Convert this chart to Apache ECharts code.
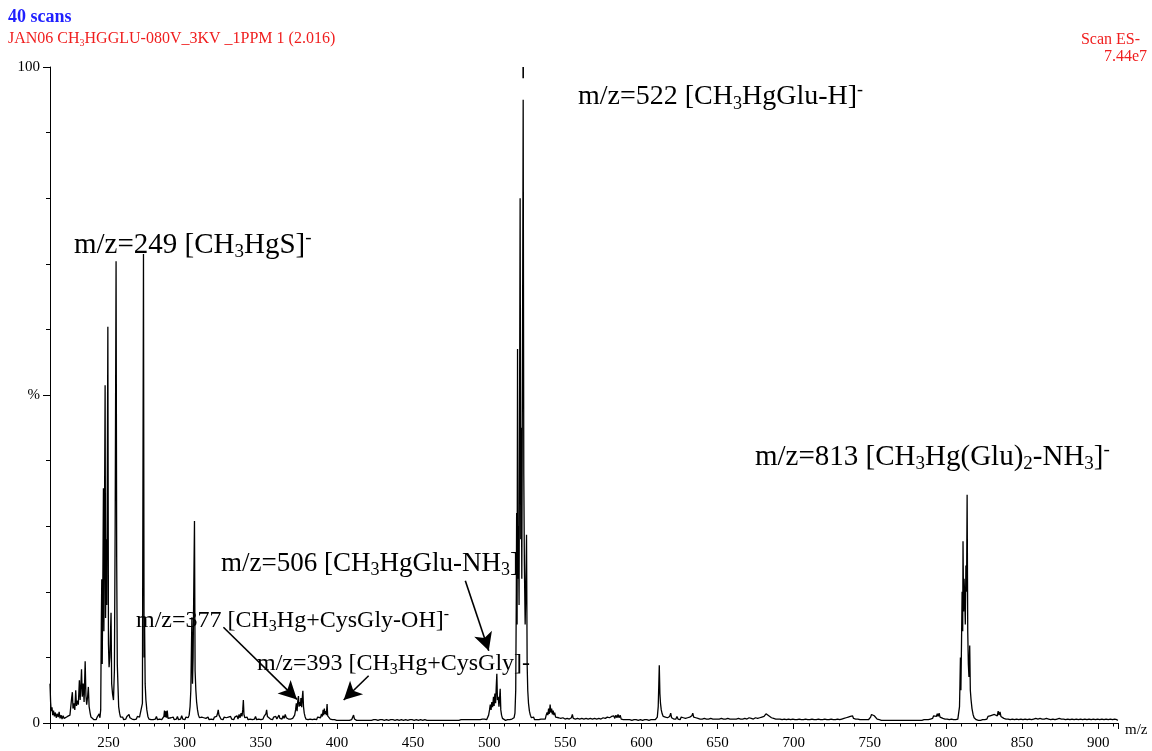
<!DOCTYPE html>
<html>
<head>
<meta charset="utf-8">
<script src="https://cdn.jsdelivr.net/npm/echarts@6/dist/echarts.min.js"></script>
<style>
html,body{margin:0;padding:0;background:#fff;}
#chart{width:1152px;height:751px;}
</style>
</head>
<body>
<div id="chart"></div>
<script>
// ---- Data: [m/z, relative intensity %] ----
const spectrumA = [[211.5,6.0],[211.9,3.2],[212.3,1.8],[212.8,2.4],[213.3,1.2],[213.8,1.9],[214.4,1.0],[215.0,1.6],[215.6,0.8],[216.2,1.4],[216.9,0.9],[217.5,1.7],[218.1,0.7],[218.8,1.2],[219.4,0.6],[220.1,1.1],[220.8,0.7],[221.4,0.9],[222.0,0.6],[223,1.0],[223.8,0.7],[224.6,1.2],[225.3,0.9],[225.8,4.0],[226.2,4.7],[226.6,2.2],[227.2,3.0],[227.8,2.0],[228.4,5.0],[228.9,2.6],[229.5,3.4],[230.1,2.8],[230.8,6.5],[231.3,3.5],[231.8,5.8],[232.2,8.2],[232.7,4.0],[233.3,6.0],[233.9,3.2],[234.6,9.4],[235.1,4.2],[235.6,2.8],[236.2,4.0],[236.7,5.5],[237.2,2.5],[237.8,1.6],[238.4,0.9],[239.0,0.6],[239.7,0.8],[240.4,0.5],[241.1,0.7],[241.8,0.5],[242.5,0.9],[243.2,0.6],[243.8,1.4],[244.3,0.8],[244.8,2.0],[245.2,15],[245.5,21.9],[245.8,9],[246.1,18],[246.6,35.8],[246.9,14],[247.2,27],[247.7,51.5],[248.0,16],[248.4,28],[248.8,18],[249.1,35],[249.5,60.4],[249.9,12],[250.3,8.5],[250.8,10],[251.6,16.8],[252.0,6],[252.6,4.4],[253.2,3.5],[253.8,8],[254.3,30],[254.9,70.4],[255.3,25],[255.7,9],[256.1,6],[256.6,2.5],[257.2,1.5],[257.8,0.9],[258.5,0.6],[259.2,0.9],[259.9,0.5],[260.6,0.8],[261.3,0.6],[262.0,1.0],[262.7,0.7],[263.4,1.3],[264.0,0.8],[264.7,1.1],[265.4,0.6],[266.1,0.9],[266.8,0.5],[267.5,0.8],[268.2,0.6],[268.9,1.0],[269.6,0.7],[270.3,0.9],[271.0,0.6],[271.6,1.2],[272.2,3],[272.9,71.5],[273.3,10],[273.6,16],[274.0,6],[274.5,3.5],[275.1,2.0],[275.8,1.0],[276.5,0.6],[277.2,0.9],[277.9,0.5],[278.6,0.8],[279.3,0.5],[280.0,0.7],[280.7,0.6],[281.4,1.0],[282.1,0.5],[282.8,0.8],[283.5,0.6],[284.2,0.9],[284.9,0.5],[285.6,0.7],[286.3,1.0],[286.7,1.9],[287.1,0.9],[287.5,1.8],[288.0,0.8],[288.5,1.9],[289.0,0.7],[289.6,0.9],[290.3,0.5],[291.0,0.8],[291.7,0.6],[292.4,0.9],[293.1,0.5],[293.8,0.7],[294.5,0.6],[295.2,1.0],[295.9,0.5],[296.6,0.8],[297.3,0.6],[298.0,1.1],[298.7,0.6],[299.4,0.8]];
const spectrumB = [[300.1,0.5],[300.8,0.9],[301.5,0.6],[302.2,0.8],[302.9,1.2],[303.5,2.5],[304.0,5],[304.7,16.1],[305.1,6],[305.5,10],[306.0,22],[306.4,30.8],[306.8,8],[307.3,5],[307.8,3.2],[308.4,2.0],[309.0,1.2],[309.7,0.8],[310.4,0.5],[311.1,0.9],[311.8,0.6],[312.5,0.8],[313.2,0.5],[313.9,0.7],[314.6,0.6],[315.3,0.9],[316.0,0.5],[316.7,0.8],[317.4,0.6],[318.1,0.7],[318.8,0.5],[319.5,0.9],[320.2,0.6],[320.9,1.0],[321.5,1.4],[322.0,2.0],[322.5,1.2],[323.1,1.0],[323.8,0.6],[324.5,0.8],[325.2,0.5],[325.9,0.9],[326.6,0.6],[327.3,0.8],[328.0,0.5],[328.7,0.9],[329.4,0.6],[330.1,1.0],[330.8,0.6],[331.5,0.8],[332.2,0.5],[332.9,0.9],[333.6,0.7],[334.3,1.1],[335.0,0.6],[335.7,1.3],[336.3,0.8],[337.0,1.5],[337.6,1.0],[338.1,2.0],[338.5,3.5],[338.9,1.3],[339.5,0.8],[340.2,0.6],[340.9,0.9],[341.6,0.5],[342.3,0.8],[343.0,0.6],[343.7,0.9],[344.4,0.5],[345.1,0.8],[345.8,0.6],[346.5,1.0],[347.2,0.5],[347.9,0.7],[348.6,0.6],[349.3,0.9],[350.0,0.5],[350.7,0.8],[351.4,0.6],[352.1,1.0],[352.7,0.8],[353.3,1.4],[353.8,2.0],[354.3,1.0],[354.9,0.7],[355.6,0.9],[356.3,0.6],[357.0,0.8],[357.7,0.5],[358.4,0.9],[359.1,0.6],[359.8,1.0],[360.5,0.6],[361.2,0.8],[361.9,1.2],[362.5,0.7],[363.2,0.9],[363.9,0.6],[364.6,1.1],[365.3,0.7],[366.0,1.3],[366.7,0.8],[367.4,1.0],[368.1,0.6],[368.8,0.9],[369.5,0.6],[370.2,0.8],[370.9,0.7],[371.6,1.0],[372.2,1.2],[372.8,2.0],[373.3,3.0],[373.8,1.8],[374.3,3.5],[374.7,4.1],[375.1,2.5],[375.6,3.2],[376.0,2.6],[376.3,3.8],[376.8,2.4],[377.2,3.8],[377.6,4.9],[378.0,2.5],[378.5,1.5],[379.0,1.0],[379.6,0.6],[380.3,0.8],[381.0,0.5],[381.7,0.7],[382.4,0.6],[383.1,0.9],[383.8,0.5],[384.5,0.7],[385.2,0.6],[385.9,0.8],[386.6,0.5],[387.3,0.9],[388.0,0.7],[388.6,1.1],[389.2,0.8],[389.8,1.4],[390.4,1.0],[390.9,2.0],[391.3,1.2],[391.7,2.2],[392.1,1.4],[392.6,1.8],[393.0,1.2],[393.5,2.9],[393.9,1.1],[394.4,0.8],[395.0,1.0],[395.6,0.6],[396.3,0.8],[397.0,0.5],[397.7,0.7],[398.4,0.5],[399.1,0.6]];
const spectrumC = [[399.8,0.4],[400.5,0.6],[401.2,0.4],[401.9,0.6],[402.6,0.4],[403.3,0.7],[404.0,0.4],[404.7,0.6],[405.4,0.4],[406.1,0.5],[406.8,0.4],[407.5,0.6],[408.2,0.4],[408.9,0.6],[409.6,0.5],[410.3,0.8],[410.9,1.2],[411.5,0.6],[412.2,0.5],[412.9,0.4],[413.6,0.6],[414.3,0.4],[415.0,0.5],[415.7,0.4],[416.4,0.7],[417.1,0.4],[417.8,0.5],[418.5,0.4],[419.2,0.6],[419.9,0.4],[420.6,0.5],[421.3,0.4],[422.0,0.7],[422.7,0.4],[423.4,0.6],[424.1,0.5],[424.8,0.8],[425.5,0.5],[426.2,0.7],[426.9,0.4],[427.6,0.6],[428.3,0.5],[429.0,0.8],[429.7,0.5],[430.4,0.7],[431.1,0.4],[431.8,0.6],[432.5,0.5],[433.2,0.7],[433.9,0.4],[434.6,0.6],[435.3,0.5],[436.0,0.8],[436.7,0.5],[437.4,0.6],[438.1,0.4],[438.8,0.7],[439.5,0.5],[440.2,0.6],[440.9,0.4],[441.6,0.6],[442.3,0.5],[443.0,0.7],[443.7,0.4],[444.4,0.6],[445.1,0.5],[445.8,0.7],[446.5,0.4],[447.2,0.6],[447.9,0.5],[448.6,0.8],[449.3,0.5],[450.0,0.6],[450.7,0.4],[451.4,0.7],[452.1,0.5],[452.8,0.6],[453.5,0.4],[454.2,0.6],[454.9,0.5],[455.6,0.7],[456.3,0.4],[457.0,0.6],[457.7,0.5],[458.4,0.6],[459.1,0.4],[459.8,0.5],[460.5,0.4],[461.2,0.6],[461.9,0.4],[462.6,0.5],[463.3,0.4],[464.0,0.6],[464.7,0.4],[465.4,0.5],[466.1,0.4],[466.8,0.6],[467.5,0.4],[468.2,0.5],[468.9,0.4],[469.6,0.6],[470.3,0.4],[471.0,0.5],[471.7,0.4],[472.4,0.6],[473.1,0.4],[473.8,0.5],[474.5,0.4],[475.2,0.6],[475.9,0.4],[476.6,0.5],[477.3,0.4],[478.0,0.6],[478.7,0.4],[479.4,0.5],[480.1,0.4],[480.8,0.6],[481.5,0.5],[482.2,0.7],[482.9,0.5],[483.6,0.6],[484.3,0.5],[485.0,0.7],[485.7,0.5],[486.4,0.8],[487.1,0.5],[487.8,0.6],[488.5,0.5],[489.2,0.7],[489.9,0.5],[490.6,0.6],[491.3,0.5],[492.0,0.7],[492.7,0.5],[493.4,0.6],[494.1,0.5],[494.8,0.7],[495.5,0.6],[496.2,0.8],[496.9,0.6],[497.6,0.7],[498.3,0.5],[499.0,0.8]];
const spectrumD = [[499.6,1.2],[500.2,2.0],[500.7,2.8],[501.2,2.0],[501.7,3.2],[502.2,2.4],[502.8,4.0],[503.2,2.6],[503.7,4.5],[504.2,3.0],[504.6,5.5],[505.0,7.5],[505.4,3.5],[505.9,4.0],[506.4,2.5],[506.8,3.8],[507.2,5.2],[507.6,2.0],[508.1,1.2],[508.7,0.7],[509.3,0.5],[510.0,0.6],[510.7,0.4],[511.4,0.6],[512.1,0.5],[512.8,0.7],[513.5,0.5],[514.2,0.8],[514.9,0.6],[515.6,0.9],[516.3,0.8],[516.9,1.5],[517.4,5],[517.8,20],[518.0,32],[518.3,15],[518.6,57],[518.9,22],[519.2,30],[519.6,18],[520.3,80],[520.7,28],[521.0,45],[521.4,22],[521.8,52],[522.3,95],[522.7,38],[523.1,24],[523.6,15],[524.0,20],[524.5,28.7],[524.9,9],[525.3,5],[525.8,3],[526.4,1.8],[527.0,1.2],[527.7,0.8],[528.4,0.6],[529.1,0.9],[529.8,0.5],[530.5,0.7],[531.2,0.5],[531.9,0.8],[532.6,0.5],[533.3,0.7],[534.0,0.6],[534.7,0.9],[535.4,0.6],[536.1,0.8],[536.8,0.6],[537.4,1.2],[538.0,1.6],[538.5,1.2],[539.0,2.2],[539.5,1.4],[540.0,2.8],[540.5,1.6],[541.0,2.2],[541.5,1.3],[542.0,1.9],[542.5,1.2],[543.0,1.6],[543.6,0.9],[544.2,1.1],[544.9,0.6],[545.6,0.8],[546.3,0.5],[547.0,0.7],[547.7,0.5],[548.4,0.8],[549.1,0.5],[549.8,0.6],[550.5,0.5],[551.2,0.7],[551.9,0.5],[552.6,0.6],[553.3,0.5],[554.0,0.8],[554.6,1.3],[555.2,0.7],[555.9,0.5],[556.6,0.6],[557.3,0.5],[558.0,0.7],[558.7,0.4],[559.4,0.6],[560.1,0.5],[560.8,0.7],[561.5,0.5],[562.2,0.6],[562.9,0.5],[563.6,0.7],[564.3,0.5],[565.0,0.6],[565.7,0.5],[566.4,0.7],[567.1,0.5],[567.8,0.6],[568.5,0.4],[569.2,0.7],[569.9,0.5],[570.6,0.6],[571.3,0.5],[572.0,0.7],[572.7,0.5],[573.4,0.6],[574.1,0.5],[574.8,0.8],[575.5,0.5],[576.2,0.7],[576.9,0.6],[577.6,0.9],[578.3,0.6],[579.0,0.8],[579.7,0.6],[580.4,1.0],[581.1,0.7],[581.8,1.1],[582.5,0.7],[583.2,1.2],[583.9,0.8],[584.6,1.3],[585.3,0.8],[586.0,1.2],[586.7,0.6],[587.4,0.9],[588.1,0.5],[588.8,0.7],[589.5,0.5],[590.2,0.6],[590.9,0.5],[591.6,0.7],[592.3,0.5],[593.0,0.6],[593.7,0.4],[594.4,0.6],[595.1,0.5],[595.8,0.7],[596.5,0.5],[597.2,0.6],[597.9,0.4],[598.6,0.6],[599.3,0.5]];
const spectrumE = [[600.0,0.6],[600.7,0.4],[601.4,0.6],[602.1,0.5],[602.8,0.7],[603.5,0.5],[604.2,0.6],[604.9,0.4],[605.6,0.6],[606.3,0.5],[607.0,0.7],[607.7,0.5],[608.4,0.6],[609.1,0.5],[609.8,0.7],[610.4,0.9],[611.0,2.5],[611.4,6],[611.7,8.8],[612.1,4.5],[612.5,3.0],[613.0,2.0],[613.6,1.4],[614.3,1.0],[615.0,0.7],[615.7,0.9],[616.4,0.6],[617.1,0.8],[617.8,0.6],[618.5,1.0],[619.2,1.5],[619.8,0.8],[620.5,1.1],[621.2,0.6],[621.9,0.9],[622.6,0.6],[623.3,1.0],[624.0,0.6],[624.7,0.8],[625.4,0.5],[626.1,0.9],[626.8,0.6],[627.5,0.8],[628.2,0.5],[628.9,0.7],[629.6,0.5],[630.3,0.8],[631.0,0.6],[631.7,0.9],[632.4,0.7],[633.1,1.1],[633.7,1.5],[634.3,0.9],[635.0,0.6],[635.7,0.8],[636.4,0.5],[637.1,0.7],[637.8,0.5],[638.5,0.6],[639.2,0.4],[639.9,0.6],[640.6,0.5],[641.3,0.7],[642.0,0.5],[642.7,0.6],[643.4,0.4],[644.1,0.6],[644.8,0.5],[645.5,0.7],[646.2,0.5],[646.9,0.6],[647.6,0.4],[648.3,0.6],[649.0,0.5],[649.7,0.6],[650.4,0.4],[651.1,0.6],[651.8,0.5],[652.5,0.7],[653.2,0.5],[653.9,0.6],[654.6,0.4],[655.3,0.6],[656.0,0.5],[656.7,0.7],[657.4,0.5],[658.1,0.6],[658.8,0.4],[659.5,0.6],[660.2,0.5],[660.9,0.6],[661.6,0.4],[662.3,0.6],[663.0,0.5],[663.7,0.7],[664.4,0.5],[665.1,0.6],[665.8,0.4],[666.5,0.6],[667.2,0.5],[667.9,0.7],[668.6,0.5],[669.3,0.6],[670.0,0.5],[670.7,0.8],[671.4,0.5],[672.1,0.7],[672.8,0.5],[673.5,0.6],[674.2,0.5],[674.9,0.8],[675.6,0.5],[676.3,0.7],[677.0,0.6],[677.7,0.8],[678.4,0.6],[679.1,0.9],[679.8,0.7],[680.5,1.0],[681.2,1.1],[681.8,1.4],[682.4,1.2],[683.0,1.6],[683.6,1.1],[684.2,1.3],[684.8,0.9],[685.4,0.8],[686.1,0.6],[686.8,0.7],[687.5,0.5],[688.2,0.6],[688.9,0.4],[689.6,0.6],[690.3,0.5],[691.0,0.6],[691.7,0.4],[692.4,0.5],[693.1,0.4],[693.8,0.6],[694.5,0.4],[695.2,0.5],[695.9,0.4],[696.6,0.6],[697.3,0.4],[698.0,0.5],[698.7,0.4],[699.4,0.6]];
const spectrumF = [[700.1,0.4],[700.8,0.5],[701.5,0.4],[702.2,0.5],[702.9,0.4],[703.6,0.6],[704.3,0.4],[705.0,0.5],[705.7,0.4],[706.4,0.5],[707.1,0.4],[707.8,0.6],[708.5,0.4],[709.2,0.5],[709.9,0.4],[710.6,0.5],[711.3,0.4],[712.0,0.6],[712.7,0.4],[713.4,0.5],[714.1,0.4],[714.8,0.5],[715.5,0.4],[716.2,0.6],[716.9,0.4],[717.6,0.5],[718.3,0.4],[719.0,0.5],[719.7,0.4],[720.4,0.6],[721.1,0.4],[721.8,0.5],[722.5,0.4],[723.2,0.5],[723.9,0.4],[724.6,0.6],[725.3,0.4],[726.0,0.5],[726.7,0.4],[727.4,0.5],[728.1,0.4],[728.8,0.6],[729.5,0.4],[730.2,0.5],[730.9,0.4],[731.6,0.6],[732.3,0.5],[733.0,0.7],[733.7,0.5],[734.4,0.8],[735.1,0.6],[735.8,0.9],[736.5,0.6],[737.2,1.0],[737.9,0.7],[738.6,1.1],[739.3,0.7],[740.0,1.0],[740.7,0.6],[741.4,0.9],[742.1,0.6],[742.8,0.8],[743.5,0.5],[744.2,0.7],[744.9,0.5],[745.6,0.6],[746.3,0.5],[747.0,0.6],[747.7,0.5],[748.4,0.7],[749.1,0.5],[749.8,0.8],[750.5,0.9],[751.1,1.3],[751.7,1.0],[752.3,1.6],[752.9,1.1],[753.5,1.2],[754.1,0.8],[754.8,0.6],[755.5,0.7],[756.2,0.5],[756.9,0.6],[757.6,0.4],[758.3,0.5],[759.0,0.4],[759.7,0.6],[760.4,0.4],[761.1,0.5],[761.8,0.4],[762.5,0.5],[763.2,0.4],[763.9,0.6],[764.6,0.4],[765.3,0.5],[766.0,0.4],[766.7,0.5],[767.4,0.4],[768.1,0.6],[768.8,0.4],[769.5,0.5],[770.2,0.4],[770.9,0.5],[771.6,0.4],[772.3,0.6],[773.0,0.4],[773.7,0.5],[774.4,0.4],[775.1,0.5],[775.8,0.4],[776.5,0.6],[777.2,0.4],[777.9,0.5],[778.6,0.4],[779.3,0.5],[780.0,0.4],[780.7,0.6],[781.4,0.4],[782.1,0.5],[782.8,0.4],[783.5,0.6],[784.2,0.4],[784.9,0.5],[785.6,0.5],[786.3,0.7],[787.0,0.5],[787.7,0.6],[788.4,0.5],[789.1,0.7],[789.8,0.6],[790.5,0.9],[791.2,0.7],[791.9,1.1],[792.5,0.9],[793.1,1.3],[793.7,1.0],[794.3,1.4],[794.9,1.0],[795.5,1.5],[796.1,0.9],[796.7,1.0],[797.3,0.6],[798.0,0.7],[798.7,0.5],[799.4,0.6]];
const spectrumG = [[800.1,0.4],[800.8,0.6],[801.5,0.4],[802.2,0.5],[802.9,0.4],[803.6,0.6],[804.3,0.4],[805.0,0.5],[805.7,0.4],[806.4,0.5],[807.1,0.4],[807.8,0.6],[808.4,0.8],[808.9,2.5],[809.2,6],[809.5,10],[809.8,5],[810.2,12],[810.6,20],[811.0,14],[811.2,27.7],[811.6,17],[811.9,22],[812.3,19.4],[812.7,15],[813.1,24],[813.5,20],[813.9,34.8],[814.3,14],[814.7,9],[815.1,7],[815.6,11.8],[816.0,5],[816.5,3.5],[817.1,2.2],[817.8,1.3],[818.5,0.8],[819.2,0.6],[819.9,0.5],[820.6,0.6],[821.3,0.4],[822.0,0.5],[822.7,0.4],[823.4,0.6],[824.1,0.5],[824.8,0.7],[825.5,0.5],[826.2,0.8],[826.9,0.6],[827.6,1.0],[828.3,0.7],[829.0,1.1],[829.7,0.8],[830.4,1.2],[831.1,0.9],[831.8,1.3],[832.5,1.0],[833.1,1.6],[833.7,1.1],[834.3,1.8],[834.9,1.2],[835.5,1.7],[836.1,1.0],[836.7,1.3],[837.3,0.8],[838.0,0.7],[838.7,0.5],[839.4,0.6],[840.1,0.4],[840.8,0.6],[841.5,0.4],[842.2,0.5],[842.9,0.4],[843.6,0.6],[844.3,0.4],[845.0,0.5],[845.7,0.4],[846.4,0.6],[847.1,0.4],[847.8,0.5],[848.5,0.4],[849.2,0.6],[849.9,0.4],[850.6,0.5],[851.3,0.4],[852.0,0.6],[852.7,0.4],[853.4,0.5],[854.1,0.4],[854.8,0.6],[855.5,0.4],[856.2,0.5],[856.9,0.4],[857.6,0.6],[858.3,0.5],[859.0,0.7],[859.7,0.5],[860.4,0.6],[861.1,0.5],[861.8,0.7],[862.5,0.5],[863.2,0.6],[863.9,0.4],[864.6,0.6],[865.3,0.5],[866.0,0.7],[866.7,0.5],[867.4,0.6],[868.1,0.4],[868.8,0.5],[869.5,0.4],[870.2,0.6],[870.9,0.4],[871.6,0.5],[872.3,0.4],[873.0,0.6],[873.7,0.5],[874.4,0.7],[875.1,0.5],[875.8,0.6],[876.5,0.4],[877.2,0.6],[877.9,0.4],[878.6,0.5],[879.3,0.4],[880.0,0.6],[880.7,0.4],[881.4,0.5],[882.1,0.4],[882.8,0.6],[883.5,0.4],[884.2,0.5],[884.9,0.4],[885.6,0.6],[886.3,0.4],[887.0,0.5],[887.7,0.4],[888.4,0.6],[889.1,0.4],[889.8,0.5],[890.5,0.4],[891.2,0.6],[891.9,0.4],[892.6,0.5],[893.3,0.4],[894.0,0.6],[894.7,0.4],[895.4,0.5],[896.1,0.4],[896.8,0.6],[897.5,0.4],[898.2,0.5],[898.9,0.4],[899.6,0.6],[900.3,0.4],[901.0,0.5],[901.7,0.4],[902.4,0.6],[903.1,0.4],[903.8,0.5],[904.5,0.4],[905.2,0.6],[905.9,0.4],[906.6,0.5],[907.3,0.4],[908.0,0.6],[908.7,0.4],[909.4,0.5],[910.1,0.4],[910.8,0.6],[911.5,0.4],[912.2,0.5],[912.9,0.4]];
// base-peak marker at top of the scale
const basePeakMarker = [[522.3,98.3],[522.3,100]];
// annotation arrows: [from, to] in [m/z, %]
const arrows = [
  [[325.4,14.6],[373.7,3.6]],
  [[420.8,7.2],[404.4,3.5]],
  [[484.3,21.7],[499.7,11.0]]
];
const yTickLabels = {0:'0', 50:'%', 100:'100'};

const spectrum = [].concat(spectrumA, spectrumB, spectrumC, spectrumD, spectrumE, spectrumF, spectrumG);

const SERIF = 'Liberation Serif, Times New Roman, serif';
const chart = echarts.init(document.getElementById('chart'), null, {renderer:'canvas'});

function chem(parts, size, color) {
  const text = parts.map(p => '{' + p[0] + '|' + p[1] + '}').join('');
  const sub = Math.round(size * 0.65);
  return {
    text: text,
    rich: {
      n: {fontSize: size, fontFamily: SERIF, fill: color, lineHeight: Math.round(size*1.15)},
      s: {fontSize: sub, fontFamily: SERIF, fill: color, verticalAlign: 'bottom'},
      p: {fontSize: sub, fontFamily: SERIF, fill: color, verticalAlign: 'top'}
    }
  };
}

const option = {
  animation: false,
  backgroundColor: '#fff',
  grid: {left: 50, right: 34, top: 67, bottom: 25, containLabel: false},
  xAxis: {
    type: 'value', min: 211.5, max: 913, splitNumber: 14,
    name: 'm/z', nameLocation: 'end', nameGap: 7,
    nameTextStyle: {fontFamily: SERIF, fontSize: 15, color: '#000', verticalAlign: 'top', padding: [0,0,0,0]},
    axisLine: {show: true, lineStyle: {color: '#000', width: 1}},
    axisTick: {show: true, length: 6, inside: false, lineStyle: {color: '#000'}},
    minorTick: {show: true, splitNumber: 5, length: 3.5, lineStyle: {color: '#000'}},
    axisLabel: {
      showMinLabel: false, showMaxLabel: false, margin: 13,
      fontFamily: SERIF, fontSize: 15, color: '#000',
      formatter: v => (v % 50 === 0 ? String(v) : '')
    },
    splitLine: {show: false}
  },
  yAxis: {
    type: 'value', min: 0, max: 100, interval: 50,
    axisLine: {show: true, lineStyle: {color: '#000', width: 1}},
    axisTick: {show: true, length: 7, lineStyle: {color: '#000'}},
    minorTick: {show: true, splitNumber: 5, length: 4, lineStyle: {color: '#000'}},
    axisLabel: {margin: 10, fontFamily: SERIF, fontSize: 15, color: '#000',
      formatter: v => (yTickLabels[v] !== undefined ? yTickLabels[v] : '')},
    splitLine: {show: false}
  },
  series: [
    {
      type: 'line', data: spectrum, showSymbol: false, symbol: 'none',
      sampling: null, smooth: false, silent: true,
      lineStyle: {color: '#000', width: 1.3},
      markLine: {
        silent: true, symbol: ['none', 'arrow'], symbolSize: [14, 18],
        label: {show: false},
        lineStyle: {color: '#000', width: 1.6, type: 'solid'},
        data: arrows.map(a => [{coord: a[0]}, {coord: a[1]}])
      }
    },
    {
      type: 'line', data: basePeakMarker, showSymbol: false, symbol: 'none', silent: true,
      lineStyle: {color: '#000', width: 1.6}
    }
  ],
  graphic: [
    {type: 'text', left: 8, top: 8, style: {text: '40 scans', fill: '#1f1fff', font: 'bold 18px ' + SERIF}},
    {type: 'text', left: 8, top: 31, style: chem([['n','JAN06 CH'],['s','3'],['n','HGGLU-080V_3KV _1PPM 1 (2.016)']], 16, '#f01e1e')},
    {type: 'text', right: 12, top: 32, style: {text: 'Scan ES-', fill: '#f01e1e', font: '16px ' + SERIF}},
    {type: 'text', right: 5, top: 49, style: {text: '7.44e7', fill: '#f01e1e', font: '16px ' + SERIF}},
    {type: 'text', left: 578, top: 81, style: chem([['n','m/z=522 [CH'],['s','3'],['n','HgGlu-H]'],['p','-']], 28, '#000')},
    {type: 'text', left: 74, top: 229, style: chem([['n','m/z=249 [CH'],['s','3'],['n','HgS]'],['p','-']], 29, '#000')},
    {type: 'text', left: 755, top: 441, style: chem([['n','m/z=813 [CH'],['s','3'],['n','Hg(Glu)'],['s','2'],['n','-NH'],['s','3'],['n',']'],['p','-']], 29, '#000')},
    {type: 'text', left: 221, top: 550, style: chem([['n','m/z=506 [CH'],['s','3'],['n','HgGlu-NH'],['s','3'],['n',']']], 27, '#000')},
    {type: 'text', left: 136, top: 607, style: chem([['n','m/z=377 [CH'],['s','3'],['n','Hg+CysGly-OH]'],['p','-']], 24, '#000')},
    {type: 'text', left: 257, top: 652, style: chem([['n','m/z=393 [CH'],['s','3'],['n','Hg+CysGly]-']], 24, '#000')}
  ]
};
chart.setOption(option);
</script>
</body>
</html>
